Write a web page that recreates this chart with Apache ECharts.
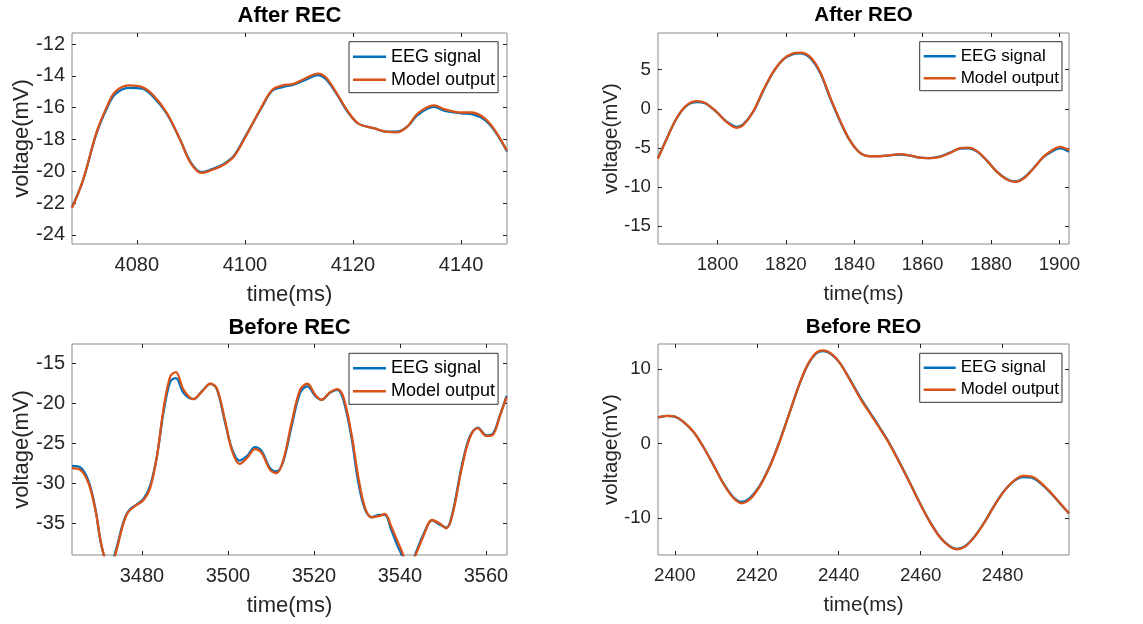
<!DOCTYPE html>
<html>
<head>
<meta charset="utf-8">
<script src="https://cdn.jsdelivr.net/npm/echarts@6/dist/echarts.min.js"></script>
<style>
html,body{margin:0;padding:0;background:#fff;}
#chart{width:1143px;height:624px;}
</style>
</head>
<body>
<div id="chart"></div>
<script>
// ---------- Data ----------
var seriesNames = ['EEG signal', 'Model output'];
var panelTitles = ['After REC', 'After REO', 'Before REC', 'Before REO'];

// After REC
var timeAfterREC = [4068, 4070, 4072.5, 4074.5, 4076, 4078.5, 4081, 4083, 4085.5, 4088, 4090, 4092, 4094, 4096, 4098, 4100, 4103, 4105, 4107, 4109, 4111.5, 4113.5, 4115, 4117, 4119, 4121, 4124, 4126, 4128, 4130, 4132, 4135, 4137, 4140, 4142, 4144.5, 4146.5, 4148.5];
var eegAfterREC = [-22.25, -20.6, -17.65, -16.0, -15.15, -14.75, -14.8, -15.3, -16.35, -18.0, -19.45, -20.05, -19.85, -19.55, -19.0, -17.85, -16.05, -14.95, -14.7, -14.55, -14.2, -13.95, -14.2, -15.15, -16.25, -17.0, -17.3, -17.5, -17.5, -17.2, -16.45, -15.95, -16.2, -16.35, -16.4, -16.8, -17.6, -18.75];
var modelAfterREC = [-22.3, -20.6, -17.6, -15.9, -15.0, -14.6, -14.7, -15.2, -16.3, -18.0, -19.5, -20.1, -19.9, -19.6, -19.05, -17.9, -16.0, -14.9, -14.6, -14.5, -14.1, -13.85, -14.1, -15.1, -16.2, -17.0, -17.3, -17.5, -17.55, -17.2, -16.35, -15.85, -16.1, -16.3, -16.3, -16.7, -17.55, -18.7];

// After REO
var timeAfterREO = [1782.6, 1785, 1788, 1791, 1794, 1796.3, 1799.7, 1802.6, 1805.6, 1807.5, 1810.4, 1813.4, 1816.3, 1819.2, 1822.1, 1824.1, 1827, 1830, 1832.9, 1835.8, 1838.7, 1841.7, 1844.6, 1847.5, 1850.4, 1853.4, 1856.3, 1859.2, 1862.1, 1865.1, 1868, 1870.9, 1873.4, 1875.8, 1878.7, 1881.7, 1884.6, 1887, 1889.5, 1892.4, 1895.3, 1898.2, 1900.2, 1902.8];
var eegAfterREO = [-6.3, -3.95, -1.25, 0.4, 0.85, 0.7, -0.4, -1.6, -2.3, -2.0, -0.4, 2.3, 4.7, 6.3, 7.0, 7.1, 6.55, 4.6, 1.4, -1.55, -4.05, -5.65, -6.05, -6.05, -5.95, -5.85, -6.0, -6.25, -6.3, -6.1, -5.6, -5.1, -5.05, -5.45, -6.6, -8.05, -9.0, -9.3, -8.85, -7.6, -6.2, -5.35, -5.05, -5.5];
var modelAfterREO = [-6.37, -4.0, -1.24, 0.47, 0.98, 0.77, -0.38, -1.67, -2.44, -2.09, -0.38, 2.39, 4.74, 6.32, 7.09, 7.18, 6.67, 4.74, 1.54, -1.45, -4.02, -5.64, -6.07, -6.07, -5.94, -5.81, -5.98, -6.24, -6.32, -6.15, -5.64, -5.04, -4.96, -5.38, -6.58, -8.08, -9.06, -9.36, -8.93, -7.65, -6.15, -5.21, -4.87, -5.3];

// Before REC
var timeBeforeREC = [3463.75, 3465.7, 3467.6, 3469.2, 3470.7, 3472.5, 3473.8, 3475.7, 3476.9, 3478.8, 3480.4, 3481.9, 3483.5, 3485, 3486.6, 3487.9, 3489.7, 3492, 3494, 3495.9, 3497.4, 3499.3, 3500.9, 3502.7, 3504.4, 3506.3, 3507.9, 3509.8, 3511.3, 3512.9, 3514.8, 3516.8, 3518.5, 3520.3, 3521.8, 3523.7, 3525.4, 3526.8, 3528.7, 3530.3, 3531.8, 3533.4, 3535.3, 3536.5, 3538, 3540, 3542.3, 3543.8, 3545.4, 3547.5, 3549.2, 3550.8, 3552.3, 3554.3, 3556.2, 3558.1, 3560.1, 3561.6, 3563.2, 3564.8];
var eegBeforeREC = [-27.8, -28.0, -29.7, -33.2, -38.0, -40.4, -38.6, -34.8, -33.4, -32.6, -31.9, -30.3, -26.6, -21.2, -17.3, -16.87, -18.74, -19.5, -18.5, -17.6, -18.2, -22.3, -25.6, -27.14, -26.6, -25.48, -26.0, -28.1, -28.5, -27.2, -22.9, -18.7, -17.91, -19.1, -19.6, -18.7, -18.35, -19.5, -24.15, -29.8, -33.1, -34.2, -33.9, -33.9, -35.8, -38.4, -40.3, -38.5, -36.4, -34.6, -35.1, -35.5, -33.5, -28.0, -24.2, -23.05, -24.0, -23.8, -21.6, -19.1];
var modelBeforeREC = [-28.1, -28.3, -29.97, -33.3, -37.9, -40.6, -38.9, -34.96, -33.5, -32.67, -32.05, -30.6, -26.64, -20.8, -16.66, -16.12, -18.33, -19.49, -18.53, -17.58, -18.12, -22.07, -25.81, -27.56, -26.85, -25.73, -26.23, -28.3, -28.72, -27.06, -22.48, -18.33, -17.58, -18.95, -19.57, -18.66, -18.24, -19.16, -23.73, -29.14, -32.88, -34.21, -34.04, -33.79, -35.37, -37.87, -40.3, -38.7, -36.62, -34.54, -34.96, -35.58, -33.71, -28.3, -24.36, -23.11, -24.07, -23.94, -21.65, -19.24];

// Before REO
var timeBeforeREO = [2395.9, 2398, 2400, 2402, 2404.5, 2406.9, 2409.4, 2411.8, 2414.2, 2416.3, 2418.3, 2420.7, 2423.2, 2425.6, 2428.1, 2430.5, 2432.5, 2434.6, 2436.2, 2438.2, 2440.3, 2442.7, 2445.2, 2447.6, 2450, 2452.5, 2454.9, 2457.4, 2459.8, 2462.2, 2464.7, 2467.1, 2468.8, 2470.8, 2473.2, 2475.7, 2478.1, 2480.6, 2483, 2485, 2487.1, 2489.5, 2491.9, 2494.4, 2496.2];
var eegBeforeREO = [3.5, 3.72, 3.6, 2.95, 1.6, -0.4, -2.85, -5.3, -7.15, -7.85, -7.35, -5.7, -3.0, 0.35, 4.3, 8.1, 10.6, 12.15, 12.4, 12.0, 10.8, 8.65, 6.25, 4.2, 2.15, -0.1, -2.6, -5.3, -8.0, -10.45, -12.55, -13.8, -14.15, -13.8, -12.45, -10.45, -8.2, -6.2, -4.95, -4.5, -4.6, -5.45, -6.75, -8.3, -9.4];
var modelBeforeREO = [3.5, 3.72, 3.63, 2.96, 1.61, -0.4, -2.87, -5.34, -7.26, -8.03, -7.49, -5.78, -3.09, 0.27, 4.3, 8.12, 10.67, 12.24, 12.51, 12.06, 10.81, 8.57, 6.1, 4.08, 2.06, -0.18, -2.65, -5.34, -8.03, -10.49, -12.6, -13.86, -14.22, -13.86, -12.51, -10.49, -8.25, -6.23, -4.89, -4.35, -4.44, -5.34, -6.68, -8.25, -9.37];

// Tick values
var xTicksAfterREC = [4080, 4100, 4120, 4140];
var yTicksAfterREC = [-24, -22, -20, -18, -16, -14, -12];
var xTicksAfterREO = [1800, 1820, 1840, 1860, 1880, 1900];
var yTicksAfterREO = [-15, -10, -5, 0, 5];
var xTicksBeforeREC = [3480, 3500, 3520, 3540, 3560];
var yTicksBeforeREC = [-35, -30, -25, -20, -15];
var xTicksBeforeREO = [2400, 2420, 2440, 2460, 2480];
var yTicksBeforeREO = [-10, 0, 10];

// ---------- Layout / styles ----------
var FONT = '"Liberation Sans", Arial, Helvetica, sans-serif';
var BLUE = '#0072BD', RED = '#D95319';
var panels = [
  {title: panelTitles[0], t: timeAfterREC, eeg: eegAfterREC, model: modelAfterREC, xt: xTicksAfterREC, yt: yTicksAfterREC,
   xmin: 4068, xmax: 4148.5, ymin: -24.57, ymax: -11.3,
   grid: {left: 72, top: 33, width: 435, height: 211}, fs: 20, titleTop: 4.5, legend: {left: 349, top: 41.7}, legFs: 18, yGap: 39},
  {title: panelTitles[1], t: timeAfterREO, eeg: eegAfterREO, model: modelAfterREO, xt: xTicksAfterREO, yt: yTicksAfterREO,
   xmin: 1782.6, xmax: 1902.8, ymin: -17.3, ymax: 9.7,
   grid: {left: 658, top: 33, width: 411, height: 211}, fs: 18.7, titleTop: 5, legend: {left: 919.7, top: 41.7}, legFs: 17, yGap: 36},
  {title: panelTitles[2], t: timeBeforeREC, eeg: eegBeforeREC, model: modelBeforeREC, xt: xTicksBeforeREC, yt: yTicksBeforeREC,
   xmin: 3463.75, xmax: 3564.9, ymin: -38.9, ymax: -12.63,
   grid: {left: 72, top: 344, width: 435, height: 211}, fs: 20, titleTop: 316.5, legend: {left: 349, top: 353.3}, legFs: 18, yGap: 39},
  {title: panelTitles[3], t: timeBeforeREO, eeg: eegBeforeREO, model: modelBeforeREO, xt: xTicksBeforeREO, yt: yTicksBeforeREO,
   xmin: 2395.9, xmax: 2496.2, ymin: -14.98, ymax: 13.37,
   grid: {left: 658, top: 344, width: 411, height: 211}, fs: 18.7, titleTop: 317, legend: {left: 919.7, top: 353.3}, legFs: 17, yGap: 36}
];

function pairs(t, v) { return t.map(function (x, i) { return [x, v[i]]; }); }
function plain(v) { return String(v); }

var option = {
  backgroundColor: '#ffffff',
  animation: false,
  title: [], legend: [], grid: [], xAxis: [], yAxis: [], series: []
};

panels.forEach(function (p, i) {
  var tickStyle = {show: true, inside: true, length: 4, lineStyle: {color: '#262626', width: 1}};
  var noLine = {show: false, onZero: false};
  option.grid.push({left: p.grid.left, top: p.grid.top, width: p.grid.width, height: p.grid.height,
    show: true, borderColor: '#8a8a8a', borderWidth: 1, backgroundColor: '#fff'});
  option.title.push({text: p.title, left: p.grid.left + p.grid.width / 2, top: p.titleTop, textAlign: 'center', padding: 0,
    textStyle: {fontFamily: FONT, fontWeight: 'bold', fontSize: p.fs * 1.1, color: '#000'}});
  // bottom x axis
  option.xAxis.push({type: 'value', gridIndex: i, min: p.xmin, max: p.xmax, position: 'bottom',
    name: 'time(ms)', nameLocation: 'middle', nameGap: 40, nameMoveOverlap: false,
    nameTextStyle: {fontFamily: FONT, fontSize: p.fs * 1.1, color: '#262626'},
    axisLine: noLine, splitLine: {show: false},
    axisTick: Object.assign({customValues: p.xt}, tickStyle),
    axisLabel: {customValues: p.xt, formatter: plain, margin: 11, fontFamily: FONT, fontSize: p.fs, color: '#262626'}});
  // top x axis (ticks only)
  option.xAxis.push({type: 'value', gridIndex: i, min: p.xmin, max: p.xmax, position: 'top',
    axisLine: noLine, splitLine: {show: false}, axisLabel: {show: false},
    axisTick: Object.assign({customValues: p.xt}, tickStyle)});
  // left y axis
  option.yAxis.push({type: 'value', gridIndex: i, min: p.ymin, max: p.ymax, position: 'left',
    name: 'voltage(mV)', nameLocation: 'middle', nameGap: p.yGap, nameMoveOverlap: false,
    nameTextStyle: {fontFamily: FONT, fontSize: p.fs * 1.1, color: '#262626'},
    axisLine: noLine, splitLine: {show: false},
    axisTick: Object.assign({customValues: p.yt}, tickStyle),
    axisLabel: {customValues: p.yt, formatter: plain, margin: 7, fontFamily: FONT, fontSize: p.fs, color: '#262626'}});
  // right y axis (ticks only)
  option.yAxis.push({type: 'value', gridIndex: i, min: p.ymin, max: p.ymax, position: 'right',
    axisLine: noLine, splitLine: {show: false}, axisLabel: {show: false},
    axisTick: Object.assign({customValues: p.yt}, tickStyle)});

  option.series.push({name: seriesNames[0], type: 'line', xAxisIndex: 2 * i, yAxisIndex: 2 * i,
    data: pairs(p.t, p.eeg), symbol: 'none', smooth: 0.35, clip: true,
    lineStyle: {color: BLUE, width: 2.3}, itemStyle: {color: BLUE}, z: 2});
  option.series.push({name: seriesNames[1], type: 'line', xAxisIndex: 2 * i, yAxisIndex: 2 * i,
    data: pairs(p.t, p.model), symbol: 'none', smooth: 0.35, clip: true,
    lineStyle: {color: RED, width: 2.3}, itemStyle: {color: RED}, z: 3});

  option.legend.push({data: seriesNames, orient: 'vertical', left: p.legend.left, top: p.legend.top,
    padding: [6, 3, 4, 4], itemGap: 5, itemWidth: (i % 2 === 0 ? 33 : 32), itemHeight: 2.5, icon: 'rect',
    backgroundColor: '#fff', borderColor: '#333', borderWidth: 1, selectedMode: false,
    textStyle: {fontFamily: FONT, fontSize: p.legFs, color: '#000'}});
});

var chart = echarts.init(document.getElementById('chart'), null, {renderer: 'canvas'});
chart.setOption(option);
</script>
</body>
</html>
